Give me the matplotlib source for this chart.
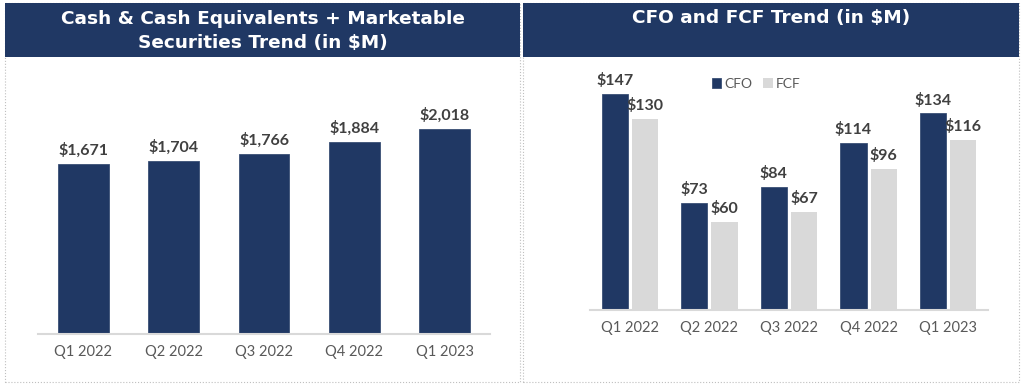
import numpy as np
import matplotlib.pyplot as plt
from matplotlib.patches import Rectangle

quarters = ['Q1 2022', 'Q2 2022', 'Q3 2022', 'Q4 2022', 'Q1 2023']
cash = [1671, 1704, 1766, 1884, 2018]
cfo = [147, 73, 84, 114, 134]
fcf = [130, 60, 67, 96, 116]

navy = '#203864'
light = '#d9d9d9'
lab_col = '#404040'
tick_col = '#595959'

plt.rcParams['font.family'] = ['Lato', 'DejaVu Sans']

W, H = 1022, 388
fig = plt.figure(figsize=(W / 100, H / 100), dpi=100)


def px_axes(x0, y0, x1, y1):
    # pixel box (top-left origin) -> figure axes
    return fig.add_axes([x0 / W, 1 - y1 / H, (x1 - x0) / W, (y1 - y0) / H])


def panel(x0, x1, title):
    fig.patches.append(Rectangle((x0 / W, 1 - 382 / H), (x1 - x0) / W, 379 / H,
                                 transform=fig.transFigure, fill=False,
                                 edgecolor='#bfbfbf', lw=0.8, ls=':'))
    fig.patches.append(Rectangle((x0 / W, 1 - 57 / H), (x1 - x0) / W, 54 / H,
                                 transform=fig.transFigure, facecolor=navy,
                                 edgecolor='none'))
    return fig.text((x0 + x1) / 2 / W, 1 - 31 / H, title, ha='center', va='center',
                    color='white', fontsize=13.3, fontweight='bold', linespacing=1.4,
                    family='DejaVu Sans')


panel(5, 520, 'Cash & Cash Equivalents + Marketable\nSecurities Trend (in $M)')
t2 = panel(523, 1019, 'CFO and FCF Trend (in $M)')
t2.set_position((771 / W, 1 - 18 / H))

# left chart
ax1 = px_axes(38, 65, 490, 334)
x = np.arange(len(quarters))
ax1.bar(x, cash, width=0.56, color=navy, edgecolor='#3a4f75', lw=0.6)
for xi, v in zip(x, cash):
    ax1.text(xi, v + 60, '${:,}'.format(v), ha='center', va='bottom',
             fontsize=11.5, fontweight='bold', color=lab_col)
ax1.set_xlim(-0.5, 4.5)
ax1.set_ylim(0, 2645)
ax1.set_xticks(x)
ax1.set_xticklabels(quarters, fontsize=10.5, color=tick_col)
ax1.tick_params(axis='x', length=0, pad=8)
ax1.set_yticks([])
for s in ['top', 'right', 'left']:
    ax1.spines[s].set_visible(False)
ax1.spines['bottom'].set_color('#d9d9d9')
ax1.spines['bottom'].set_linewidth(1.5)

# right chart
ax2 = px_axes(590, 65, 988, 310)
w = 0.33
ax2.bar(x - 0.19, cfo, width=w, color=navy, edgecolor='#3a4f75', lw=0.6, label='CFO')
ax2.bar(x + 0.19, fcf, width=w, color=light, edgecolor='none', label='FCF')
for xi, v in zip(x, cfo):
    ax2.text(xi - 0.19, v + 4, '${}'.format(v), ha='center', va='bottom',
             fontsize=11.5, fontweight='bold', color=lab_col)
for xi, v in zip(x, fcf):
    ax2.text(xi + 0.19, v + 4, '${}'.format(v), ha='center', va='bottom',
             fontsize=11.5, fontweight='bold', color=lab_col)
ax2.set_xlim(-0.5, 4.5)
ax2.set_ylim(0, 167)
ax2.set_xticks(x)
ax2.set_xticklabels(quarters, fontsize=10.5, color=tick_col)
ax2.tick_params(axis='x', length=0, pad=8)
ax2.set_yticks([])
for s in ['top', 'right', 'left']:
    ax2.spines[s].set_visible(False)
ax2.spines['bottom'].set_color('#d9d9d9')
ax2.spines['bottom'].set_linewidth(1.5)
leg = ax2.legend(loc='center', bbox_to_anchor=(756 / W, 1 - 84 / H),
                 bbox_transform=fig.transFigure, ncol=2, frameon=False,
                 fontsize=10, handlelength=0.7, handleheight=0.7,
                 handletextpad=0.2, columnspacing=0.8)
for t in leg.get_texts():
    t.set_color(tick_col)

fig.savefig('out.png', dpi=100)
